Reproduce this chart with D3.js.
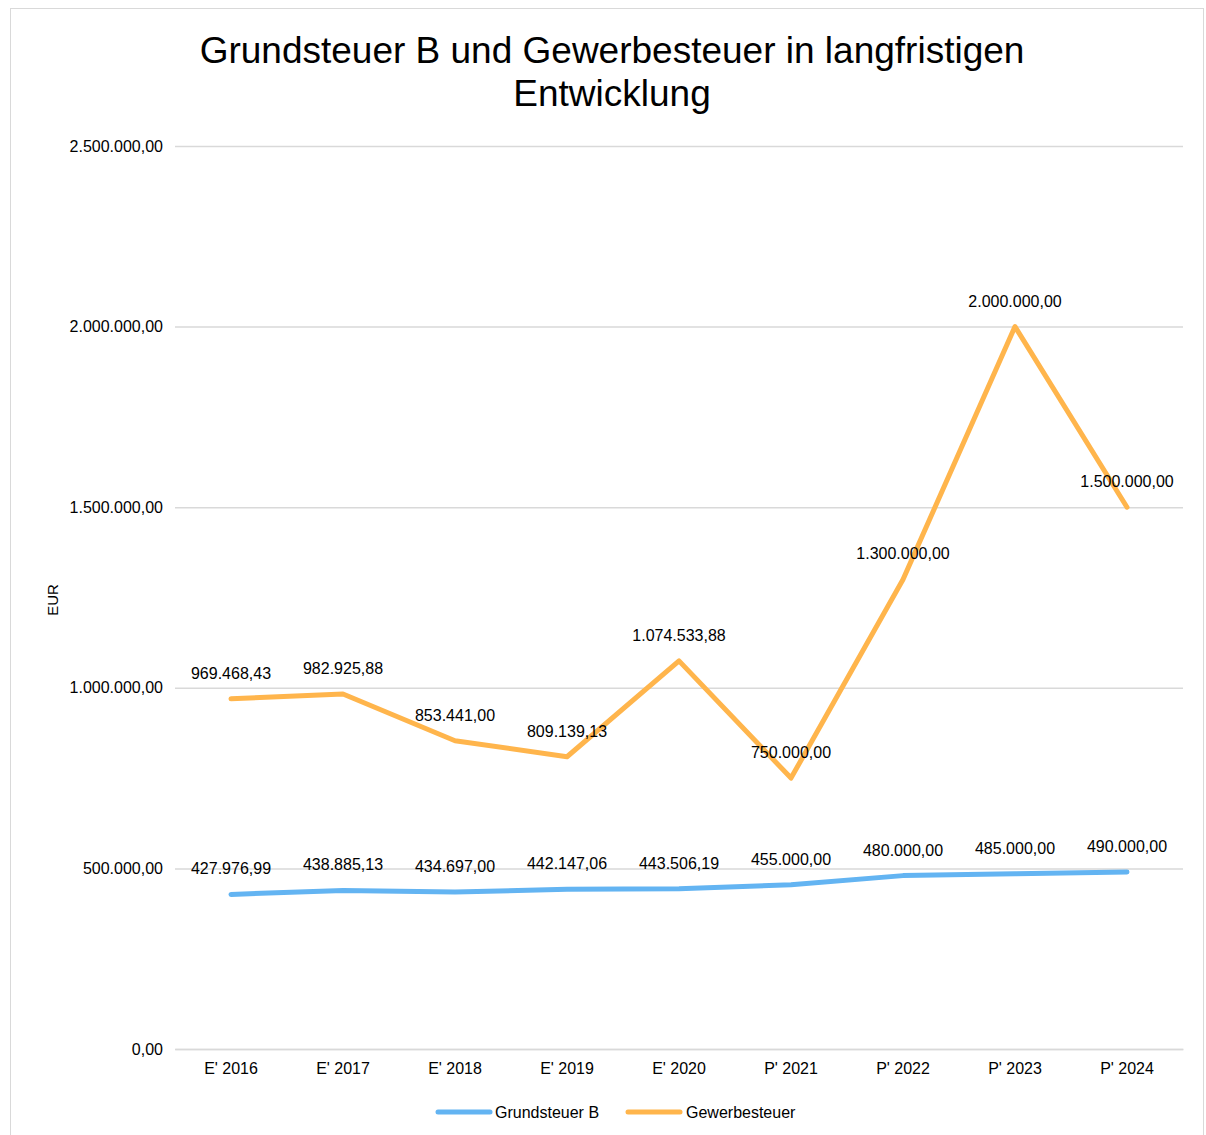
<!DOCTYPE html>
<html>
<head>
<meta charset="utf-8">
<script src="https://cdn.jsdelivr.net/npm/d3@7"></script>
<style>
  body { margin: 0; background: #fff; }
  svg { font-family: "Liberation Sans", Arial, sans-serif; }
</style>
</head>
<body>
<script>
// chart data
var categories = ["E' 2016", "E' 2017", "E' 2018", "E' 2019", "E' 2020", "P' 2021", "P' 2022", "P' 2023", "P' 2024"];
var grundsteuerB = [427976.99, 438885.13, 434697.00, 442147.06, 443506.19, 455000, 480000, 485000, 490000];
var gewerbesteuer = [969468.43, 982925.88, 853441.00, 809139.13, 1074533.88, 750000, 1300000, 2000000, 1500000];
var yTicks = [0, 500000, 1000000, 1500000, 2000000, 2500000];
var seriesNames = ["Grundsteuer B", "Gewerbesteuer"];

var width = 1206, height = 1135;
var margin = {left: 175, right: 23, top: 146, bottom: 86};
var fontSize = 16;

var fmt = d3.formatLocale({decimal: ",", thousands: ".", grouping: [3], currency: ["", " €"]}).format(",.2f");

var svg = d3.select('body').append('svg')
	.attr('width', width)
	.attr('height', height);

// outer frame
svg.append('rect')
	.attr('x', 10.5).attr('y', 8.5)
	.attr('width', 1193).attr('height', 1140)
	.attr('fill', 'none')
	.attr('stroke', '#d9d9d9');

var x = d3.scaleBand()
	.domain(categories)
	.range([margin.left, width - margin.right]);

var y = d3.scaleLinear()
	.domain([0, 2500000])
	.range([height - margin.bottom, margin.top]);

// title
svg.append('text')
	.attr('x', 612).attr('y', 63)
	.attr('text-anchor', 'middle')
	.attr('font-size', 37)
	.text('Grundsteuer B und Gewerbesteuer in langfristigen');
svg.append('text')
	.attr('x', 612).attr('y', 106)
	.attr('text-anchor', 'middle')
	.attr('font-size', 37)
	.text('Entwicklung');

// y axis + gridlines
var yAxis = d3.axisLeft(y)
	.tickValues(yTicks)
	.tickSize(-(width - margin.left - margin.right))
	.tickPadding(12)
	.tickFormat(fmt);

var gy = svg.append('g')
	.attr('transform', `translate(${margin.left},0)`)
	.call(yAxis);
gy.select('.domain').remove();
gy.selectAll('.tick line').attr('stroke', '#d9d9d9').attr('stroke-width', 1.5);
gy.selectAll('.tick text').attr('font-size', fontSize).attr('fill', '#000')
	.attr('font-family', '"Liberation Sans", Arial, sans-serif');

// x axis
var xAxis = d3.axisBottom(x).tickSize(0).tickPadding(14);
var gx = svg.append('g')
	.attr('transform', `translate(0,${y(0)})`)
	.call(xAxis);
gx.select('.domain').attr('stroke', '#d9d9d9').attr('stroke-width', 1.5);
gx.selectAll('.tick text').attr('font-size', fontSize).attr('fill', '#000')
	.attr('font-family', '"Liberation Sans", Arial, sans-serif');

// axis title
svg.append('text')
	.attr('transform', 'translate(58,600) rotate(-90)')
	.attr('text-anchor', 'middle')
	.attr('font-size', 15)
	.text('EUR');

var colors = ['#63b4f2', '#ffb54c'];
var allSeries = [grundsteuerB, gewerbesteuer];

var line = d3.line()
	.x((d, i) => x(categories[i]) + x.bandwidth() / 2)
	.y(d => y(d));

allSeries.forEach((values, s) => {
	svg.append('path')
		.datum(values)
		.attr('fill', 'none')
		.attr('stroke', colors[s])
		.attr('stroke-width', 5)
		.attr('stroke-linejoin', 'round')
		.attr('stroke-linecap', 'round')
		.attr('d', line);

	svg.append('g').selectAll('text')
		.data(values)
		.join('text')
		.attr('x', (d, i) => x(categories[i]) + x.bandwidth() / 2)
		.attr('y', d => y(d) - 20)
		.attr('text-anchor', 'middle')
		.attr('font-size', fontSize)
		.attr('fill', '#000')
		.text(d => fmt(d));
});

// legend
var legendItems = [{x: 438, tx: 495}, {x: 628, tx: 686}];
legendItems.forEach((item, s) => {
	svg.append('line')
		.attr('x1', item.x).attr('x2', item.x + 52)
		.attr('y1', 1112).attr('y2', 1112)
		.attr('stroke', colors[s])
		.attr('stroke-width', 5)
		.attr('stroke-linecap', 'round');
	svg.append('text')
		.attr('x', item.tx).attr('y', 1118)
		.attr('font-size', fontSize)
		.text(seriesNames[s]);
});
</script>
</body>
</html>
